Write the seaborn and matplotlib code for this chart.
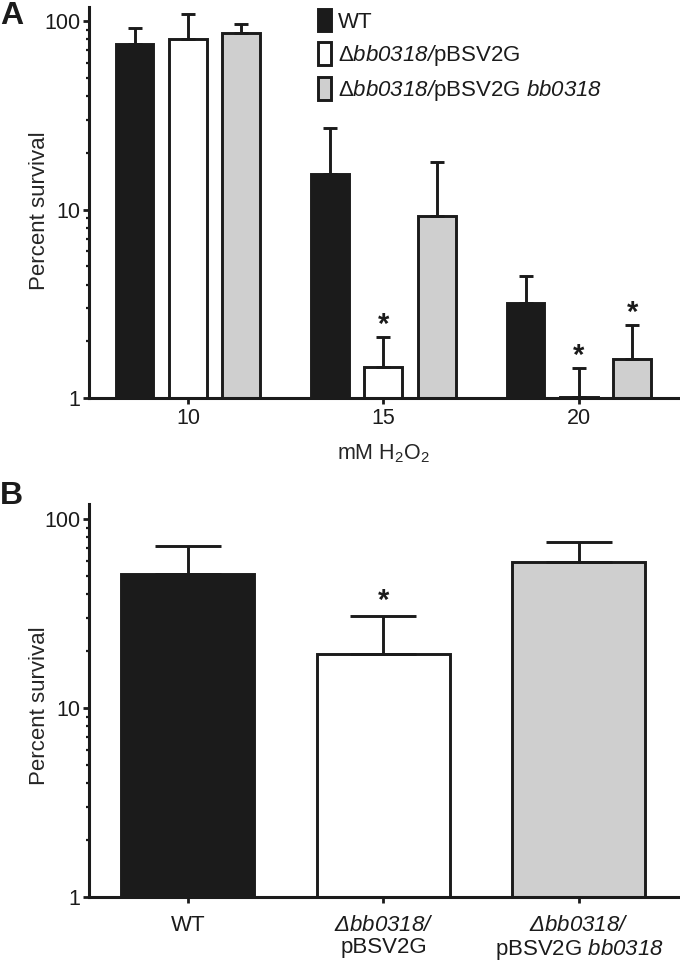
import pandas as pd
import matplotlib
matplotlib.use("Agg")
import matplotlib.pyplot as plt
import seaborn as sns
from matplotlib.patches import Patch
from matplotlib.container import BarContainer

# Panel A: survival after H2O2 exposure (mean and upper SEM)
conc = ["10", "15", "20"]
strains = ["WT", "mut", "comp"]
wt_mean = [75.5, 15.4, 3.19]
mut_mean = [80.3, 1.46, 1.01]
comp_mean = [86.3, 9.24, 1.61]
wt_err = [16.3, 11.6, 1.25]
mut_err = [28.7, 0.65, 0.43]
comp_err = [10.1, 8.7, 0.83]
sig_a = [("mut", "15"), ("mut", "20"), ("comp", "20")]

# Panel B
strain_b = ["WT", "mut", "comp"]
mean_b = [51.2, 19.3, 59.2]
err_b = [20.8, 11.4, 16.4]
sig_b = ["mut"]

# italic gene names via the sf slot (mapped to the italic face, digits included)
legend_labels = ["WT", r"Δ$\mathsf{bb0318/}$pBSV2G",
                 r"Δ$\mathsf{bb0318/}$pBSV2G $\mathsf{bb0318}$"]
tick_labels_b = ["WT", "$\\mathsf{Δbb0318/}$\npBSV2G",
                 "$\\mathsf{Δbb0318/}$\npBSV2G $\\mathsf{bb0318}$"]

colors = {"WT": "#1b1b1b", "mut": "#ffffff", "comp": "#cfcfcf"}
ink = "#1b1b1b"
lw = 2.1

sns.set_style("ticks")
plt.rcParams["font.family"] = ["Liberation Sans", "DejaVu Sans"]
plt.rcParams["mathtext.fontset"] = "custom"
plt.rcParams["mathtext.rm"] = "Liberation Sans"
plt.rcParams["mathtext.it"] = "Liberation Sans:italic"
plt.rcParams["mathtext.sf"] = "Liberation Sans:italic"
plt.rcParams["axes.edgecolor"] = ink
plt.rcParams["xtick.color"] = ink
plt.rcParams["ytick.color"] = ink
plt.rcParams["text.color"] = ink

df_a = pd.DataFrame({
    "conc": conc * 3,
    "strain": ["WT"] * 3 + ["mut"] * 3 + ["comp"] * 3,
    "value": wt_mean + mut_mean + comp_mean,
})
errs_a = {"WT": wt_err, "mut": mut_err, "comp": comp_err}

df_b = pd.DataFrame({"strain": strain_b, "value": mean_b})

fig = plt.figure(figsize=(6.8, 9.64), dpi=100)
ax_a = fig.add_axes([0.1309, 0.5871, 0.866, 0.4056])
ax_b = fig.add_axes([0.1309, 0.0695, 0.866, 0.4077])


def style_axis(ax, top, label_y):
    ax.set_yscale("log")
    ax.set_ylim(1, top)
    ax.set_xlim(-0.506, 2.506)
    sns.despine(ax=ax)
    for s in ["left", "bottom"]:
        ax.spines[s].set_linewidth(2.2)
    ax.set_yticks([1, 10, 100])
    ax.set_yticklabels(["1", "10", "100"])
    ax.tick_params(axis="both", which="major", length=4, width=2, labelsize=15.5, pad=2)
    ax.tick_params(axis="y", which="minor", length=2.5, width=1.6)
    ax.set_ylabel("Percent survival", fontsize=16)
    ax.yaxis.set_label_coords(-0.066, label_y)


# ---- Panel A ----
sns.barplot(data=df_a, x="conc", y="value", hue="strain", order=conc,
            hue_order=strains, palette=colors, errorbar=None, width=0.82,
            gap=0.29, edgecolor=ink, linewidth=lw, legend=False, ax=ax_a)
style_axis(ax_a, 118.6, 0.48)
ax_a.tick_params(axis="x", pad=3)
ax_a.set_xlabel("mM H$_2$O$_2$", fontsize=15.5, labelpad=10)

bars_a = [c for c in ax_a.containers if isinstance(c, BarContainer)]
for cont, s in zip(bars_a, strains):
    for bar, c, e in zip(cont.patches, conc, errs_a[s]):
        xc = bar.get_x() + bar.get_width() / 2
        h = bar.get_height()
        ax_a.errorbar(xc, h, yerr=[[0], [e]], fmt="none", ecolor=ink,
                      elinewidth=lw, capsize=5, capthick=lw, zorder=1)
        if (s, c) in sig_a:
            ax_a.annotate("*", (xc, h + e), xytext=(0, 3), textcoords="offset points",
                          ha="center", va="baseline", fontsize=21, fontweight="bold")

handles = [Patch(facecolor=colors[s], edgecolor=ink, linewidth=lw) for s in strains]
fig.legend(handles, legend_labels, loc="upper left", bbox_to_anchor=(0.467, 0.991),
           frameon=False, fontsize=16, handlelength=0.6, handleheight=1.2,
           handletextpad=0.3, labelspacing=0.42, borderpad=0, borderaxespad=0)

# ---- Panel B ----
sns.barplot(data=df_b, x="strain", y="value", hue="strain", order=strain_b,
            hue_order=strain_b, palette=colors, errorbar=None, width=0.68,
            edgecolor=ink, linewidth=lw, legend=False, ax=ax_b)
style_axis(ax_b, 120, 0.486)
ax_b.set_xlabel("")
ax_b.set_xticks(range(3))
ax_b.set_xticklabels(tick_labels_b, fontsize=16, linespacing=1.05)
ax_b.tick_params(axis="x", pad=9)

bars_b = [c for c in ax_b.containers if isinstance(c, BarContainer)]
for cont in bars_b:
    for bar in cont.patches:
        h = bar.get_height()
        if not h > 0:
            continue
        xc = bar.get_x() + bar.get_width() / 2
        i = int(round(xc))
        ax_b.errorbar(xc, h, yerr=[[0], [err_b[i]]], fmt="none", ecolor=ink,
                      elinewidth=lw, capsize=24, capthick=lw, zorder=1)
        if strain_b[i] in sig_b:
            ax_b.annotate("*", (xc, h + err_b[i]), xytext=(0, 5), textcoords="offset points",
                          ha="center", va="baseline", fontsize=21, fontweight="bold")

fig.text(0.0, 0.999, "A", fontsize=23, fontweight="bold", va="top", ha="left")
fig.text(0.0, 0.501, "B", fontsize=23, fontweight="bold", va="top", ha="left")

fig.savefig("out.png", dpi=100)
